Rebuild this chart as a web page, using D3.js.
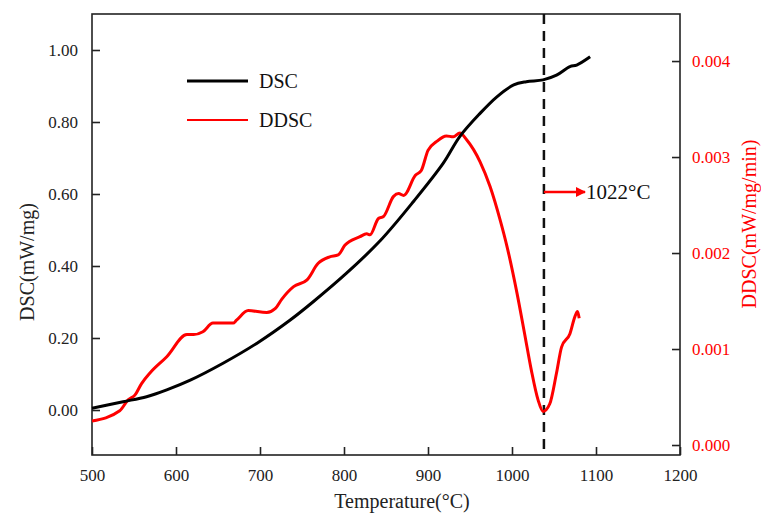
<!DOCTYPE html>
<html><head><meta charset="utf-8">
<script src="https://cdn.jsdelivr.net/npm/d3@7"></script>
<style>body{margin:0;background:#fff}svg{display:block}text{font-family:"Liberation Serif","Times New Roman",serif}</style>
</head><body><svg id="c" width="761" height="516"></svg>
<script>
const dscT = [500,537,565,589,617,656,696,736,763,803,843,883,918,938,962,982,1002,1017,1037,1053,1069,1077,1093];
const dscV = [0.005,0.023,0.037,0.056,0.083,0.13,0.185,0.25,0.30,0.38,0.47,0.58,0.685,0.76,0.824,0.87,0.903,0.912,0.917,0.93,0.954,0.958,0.981];
const ddscT = [500,533,543,551,559,569,589,613,621,632,644,668,672,686,708,718,726,740,756,769,783,793,801,819,827,831,841,847,859,865,871,885,892,900,910,922,930,938,946,962,974,986,994,1006,1015,1023,1031,1037,1045,1053,1059,1069,1075,1078,1080];
const ddscV = [0.00025,0.000357,0.00047,0.00052,0.00064,0.00075,0.00092,0.00115,0.00115,0.00118,0.00127,0.00127,0.0013,0.0014,0.00138,0.00142,0.00152,0.00165,0.00172,0.00189,0.00196,0.00198,0.00208,0.00217,0.0022,0.00219,0.00236,0.00238,0.00259,0.00262,0.0026,0.00281,0.00286,0.00307,0.00316,0.00322,0.00321,0.00325,0.00318,0.00295,0.00269,0.00234,0.00207,0.00158,0.00116,0.00078,0.00047,0.00035,0.00043,0.00075,0.00102,0.00116,0.00134,0.00139,0.00132];
const xTicks = [500,600,700,800,900,1000,1100,1200];
const yLeftTicks = [0,0.2,0.4,0.6,0.8,1.0];
const yRightTicks = [0,0.001,0.002,0.003,0.004];
const markerT = 1038;
const markerLabel = "1022°C";

const svg = d3.select("#c");
const L=92,R=680,T=14,B=455;
const x = d3.scaleLinear().domain([500,1200]).range([L,R]);
const yL = d3.scaleLinear().domain([-0.125,1.1]).range([B,T]);
const yR = d3.scaleLinear().domain([-0.000104,0.00449]).range([B,T]);

svg.append("rect").attr("x",L).attr("y",T).attr("width",R-L).attr("height",B-T)
  .attr("fill","none").attr("stroke","#222").attr("stroke-width",1.6);

const fs = 17;
const gx = svg.append("g").attr("transform",`translate(0,${B})`)
  .call(d3.axisBottom(x).tickValues(xTicks).tickSizeInner(-8).tickSizeOuter(0).tickPadding(14).tickFormat(d3.format("d")));
gx.select(".domain").remove();
gx.selectAll("line").attr("stroke","#222").attr("stroke-width",1.6);
gx.selectAll("text").attr("font-size",fs).attr("fill","#222").attr("font-family","Liberation Serif");

const gl = svg.append("g").attr("transform",`translate(${L},0)`)
  .call(d3.axisLeft(yL).tickValues(yLeftTicks).tickSizeInner(-8).tickSizeOuter(0).tickPadding(14).tickFormat(d3.format(".2f")));
gl.select(".domain").remove();
gl.selectAll("line").attr("stroke","#222").attr("stroke-width",1.6);
gl.selectAll("text").attr("font-size",fs).attr("fill","#222").attr("font-family","Liberation Serif");

const gr = svg.append("g").attr("transform",`translate(${R},0)`)
  .call(d3.axisRight(yR).tickValues(yRightTicks).tickSizeInner(-8).tickSizeOuter(0).tickPadding(12).tickFormat(d3.format(".3f")));
gr.select(".domain").remove();
gr.selectAll("line").attr("stroke","#222").attr("stroke-width",1.6);
gr.selectAll("text").attr("font-size",fs).attr("fill","#f00").attr("font-family","Liberation Serif");

svg.append("text").attr("x",(L+R)/2+16).attr("y",508).attr("text-anchor","middle")
  .attr("font-size",20).attr("fill","#222").text("Temperature(°C)");
svg.append("text").attr("transform","translate(34,262) rotate(-90)").attr("text-anchor","middle")
  .attr("font-size",20).attr("fill","#222").text("DSC(mW/mg)");
svg.append("text").attr("transform","translate(756,224) rotate(-90)").attr("text-anchor","middle")
  .attr("font-size",20).attr("fill","#f00").text("DDSC(mW/mg/min)");

svg.append("line").attr("x1",x(markerT)).attr("x2",x(markerT)).attr("y1",T).attr("y2",B)
  .attr("stroke","#111").attr("stroke-width",2.5).attr("stroke-dasharray","10,7");

const dsc = dscT.map((t,i)=>[t,dscV[i]]);
const ddsc = ddscT.map((t,i)=>[t,ddscV[i]]);
svg.append("path").datum(ddsc).attr("fill","none").attr("stroke","#f00").attr("stroke-width",3)
  .attr("stroke-linejoin","round")
  .attr("d",d3.line().x(d=>x(d[0])).y(d=>yR(d[1])).curve(d3.curveMonotoneX));
svg.append("path").datum(dsc).attr("fill","none").attr("stroke","#000").attr("stroke-width",3)
  .attr("stroke-linejoin","round")
  .attr("d",d3.line().x(d=>x(d[0])).y(d=>yL(d[1])).curve(d3.curveCatmullRom));

const defs = svg.append("defs");
defs.append("marker").attr("id","ah").attr("viewBox","0 0 10 10").attr("refX",9).attr("refY",5)
  .attr("markerWidth",5).attr("markerHeight",4).attr("orient","auto").attr("markerUnits","strokeWidth")
  .append("path").attr("d","M0,0L10,5L0,10z").attr("fill","#f00");
svg.append("line").attr("x1",x(markerT)).attr("x2",585).attr("y1",192).attr("y2",192)
  .attr("stroke","#f00").attr("stroke-width",2.5).attr("marker-end","url(#ah)");
svg.append("text").attr("x",586).attr("y",199).attr("font-size",21).attr("fill","#111").text(markerLabel);

svg.append("line").attr("x1",187).attr("x2",248).attr("y1",81).attr("y2",81).attr("stroke","#000").attr("stroke-width",3);
svg.append("text").attr("x",259).attr("y",88).attr("font-size",20).attr("fill","#111").text("DSC");
svg.append("line").attr("x1",187).attr("x2",248).attr("y1",120).attr("y2",120).attr("stroke","#f00").attr("stroke-width",2.2);
svg.append("text").attr("x",259).attr("y",127).attr("font-size",20).attr("fill","#111").text("DDSC");
</script></body></html>
